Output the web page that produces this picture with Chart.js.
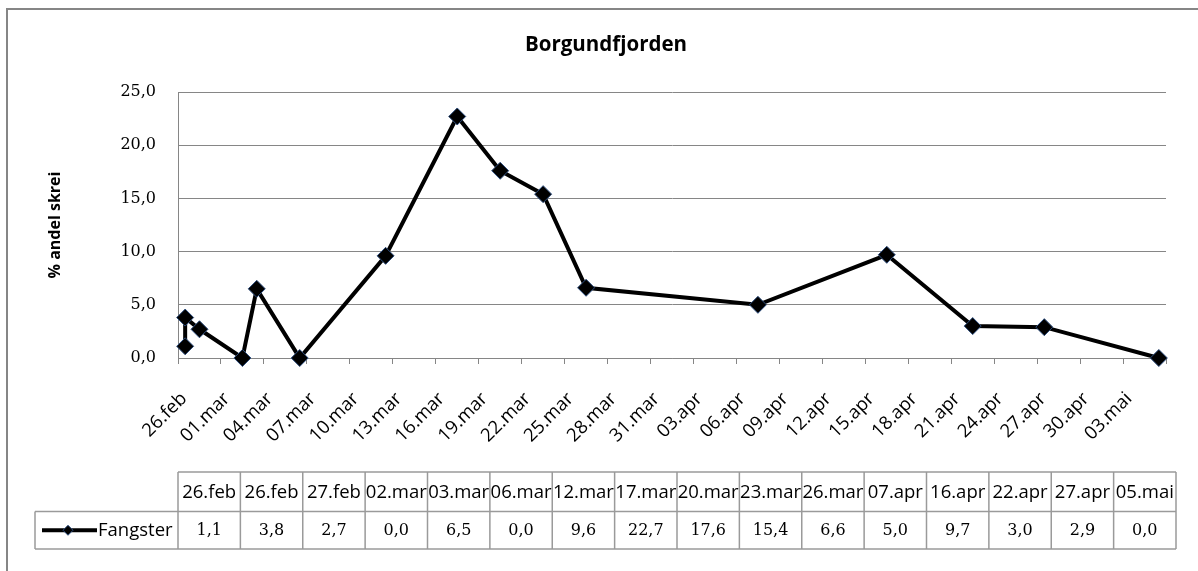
<!DOCTYPE html>
<html>
<head>
<meta charset="utf-8">
<script src="https://cdn.jsdelivr.net/npm/chart.js@4.4.0/dist/chart.umd.min.js"></script>
<style>
  html, body { margin: 0; padding: 0; background: #fff; }
  #wrap { width: 1198px; height: 571px; }
</style>
</head>
<body>
<div id="wrap"><canvas id="skreiChart" width="1198" height="571"></canvas></div>
<script>
// Sampling dates and share of skrei in the catch (%)
const sampleDates = ['26.feb', '26.feb', '27.feb', '02.mar', '03.mar', '06.mar', '12.mar', '17.mar',
                     '20.mar', '23.mar', '26.mar', '07.apr', '16.apr', '22.apr', '27.apr', '05.mai'];
const skreiShare = [1.1, 3.8, 2.7, 0.0, 6.5, 0.0, 9.6, 22.7, 17.6, 15.4, 6.6, 5.0, 9.7, 3.0, 2.9, 0.0];
const seriesName = 'Fangster';
const chartTitle = 'Borgundfjorden';
const yAxisTitle = '% andel skrei';
const yTicks = [0, 5, 10, 15, 20, 25];
const monthNames = ['jan', 'feb', 'mar', 'apr', 'mai', 'jun', 'jul', 'aug', 'sep', 'okt', 'nov', 'des'];
const axisStart = '26.feb';
const axisEnd = '06.mai';
const tickEvery = 3;

const YEAR = 2009;
const DAY = 86400000;
function toDate(label) {
    const [d, m] = label.split('.');
    return Date.UTC(YEAR, monthNames.indexOf(m), +d);
}
const startMs = toDate(axisStart);
const dayIndex = label => Math.round((toDate(label) - startMs) / DAY);
const axisDays = dayIndex(axisEnd);
function dayLabel(n) {
    const dt = new Date(startMs + n * DAY);
    return String(dt.getUTCDate()).padStart(2, '0') + '.' + monthNames[dt.getUTCMonth()];
}
const fmt = v => v.toFixed(1).replace('.', ',');

// points sit in the middle of their day, like Excel's date axis
const points = sampleDates.map((d, i) => ({ x: dayIndex(d) + 0.5, y: skreiShare[i] }));

const GRID = '#868686';
const SANS = '"Open Sans", sans-serif';
const SERIF = '"DejaVu Serif", serif';

// Frame, titles and the data table under the axis
const excelDecor = {
    id: 'excelDecor',
    afterDraw(chart) {
        const ctx = chart.ctx;
        const area = chart.chartArea;
        ctx.save();

        // outer chart frame (right and bottom edges are off the picture)
        ctx.strokeStyle = GRID;
        ctx.lineWidth = 2;
        ctx.beginPath();
        ctx.moveTo(7, 571);
        ctx.lineTo(7, 9);
        ctx.lineTo(1198, 9);
        ctx.stroke();

        ctx.fillStyle = '#000';
        ctx.textAlign = 'center';
        ctx.textBaseline = 'middle';
        ctx.font = 'bold 20.5px ' + SANS;
        ctx.fillText(chartTitle, 606, 45);

        ctx.save();
        ctx.translate(55, 225);
        ctx.rotate(-Math.PI / 2);
        ctx.font = 'bold 16px ' + SANS;
        ctx.fillText(yAxisTitle, 0, 0);
        ctx.restore();

        // data table
        const top = 472, mid = 511.5, bottom = 549, keyLeft = 35;
        const left = area.left;
        const colW = (1176 - left) / sampleDates.length;
        const right = left + colW * sampleDates.length;
        ctx.strokeStyle = '#9a9a9a';
        ctx.lineWidth = 1.5;
        ctx.beginPath();
        ctx.moveTo(left, top); ctx.lineTo(right, top);
        ctx.moveTo(keyLeft, mid); ctx.lineTo(right, mid);
        ctx.moveTo(keyLeft, bottom); ctx.lineTo(right, bottom);
        ctx.moveTo(keyLeft, mid); ctx.lineTo(keyLeft, bottom);
        for (let i = 0; i <= sampleDates.length; i++) {
            const x = left + i * colW;
            ctx.moveTo(x, top); ctx.lineTo(x, bottom);
        }
        ctx.stroke();

        const headY = (top + mid) / 2 + 1;
        const valY = (mid + bottom) / 2 + 1;
        sampleDates.forEach((d, i) => {
            const cx = left + (i + 0.5) * colW;
            ctx.font = '18.5px ' + SANS;
            ctx.fillText(d, cx, headY);
            ctx.font = '16px ' + SERIF;
            ctx.fillText(fmt(skreiShare[i]), cx, valY);
        });

        // legend key
        const ky = (mid + bottom) / 2;
        ctx.strokeStyle = '#000';
        ctx.lineWidth = 4;
        ctx.beginPath();
        ctx.moveTo(42, ky); ctx.lineTo(97, ky);
        ctx.stroke();
        ctx.fillStyle = '#000';
        ctx.strokeStyle = '#2c4c7c';
        ctx.lineWidth = 1;
        ctx.beginPath();
        ctx.moveTo(68, ky - 5); ctx.lineTo(73, ky); ctx.lineTo(68, ky + 5); ctx.lineTo(63, ky);
        ctx.closePath();
        ctx.fill();
        ctx.stroke();
        ctx.textAlign = 'left';
        ctx.font = '18.5px ' + SANS;
        ctx.fillText(seriesName, 98, ky);

        ctx.restore();
    }
};

new Chart(document.getElementById('skreiChart'), {
    type: 'line',
    data: {
        datasets: [{
            label: seriesName,
            data: points,
            borderColor: '#000',
            borderWidth: 4,
            tension: 0,
            fill: false,
            clip: false,
            pointStyle: 'rectRot',
            pointRadius: 8.5,
            pointBackgroundColor: '#000',
            pointBorderColor: '#2c4c7c',
            pointBorderWidth: 1
        }]
    },
    options: {
        responsive: false,
        animation: false,
        layout: { padding: { top: 92, right: 32, left: 0, bottom: 0 } },
        plugins: {
            legend: { display: false },
            title: { display: false },
            tooltip: { enabled: false }
        },
        scales: {
            x: {
                type: 'linear',
                min: 0,
                max: axisDays,
                afterFit(scale) {
                    scale.height = 571 - 358;
                    scale.paddingLeft = 0;
                    scale.paddingRight = 0;
                },
                grid: { drawOnChartArea: false, drawTicks: true, tickLength: 6, color: GRID },
                border: { color: GRID, width: 1 },
                ticks: {
                    stepSize: tickEvery,
                    autoSkip: false,
                    minRotation: 45,
                    maxRotation: 45,
                    labelOffset: 6,
                    padding: 24,
                    color: '#000',
                    font: { family: SANS, size: 18.5 },
                    callback: v => (v >= axisDays ? '' : dayLabel(v))
                }
            },
            y: {
                min: 0,
                max: 25,
                afterFit(scale) { scale.width = 178; },
                afterBuildTicks(scale) { scale.ticks = yTicks.map(v => ({ value: v })); },
                grid: { color: GRID, drawTicks: false },
                border: { color: GRID, width: 1 },
                ticks: {
                    padding: 22,
                    color: '#000',
                    font: { family: SERIF, size: 16 },
                    callback: v => fmt(v)
                }
            }
        }
    },
    plugins: [excelDecor]
});
</script>
</body>
</html>
